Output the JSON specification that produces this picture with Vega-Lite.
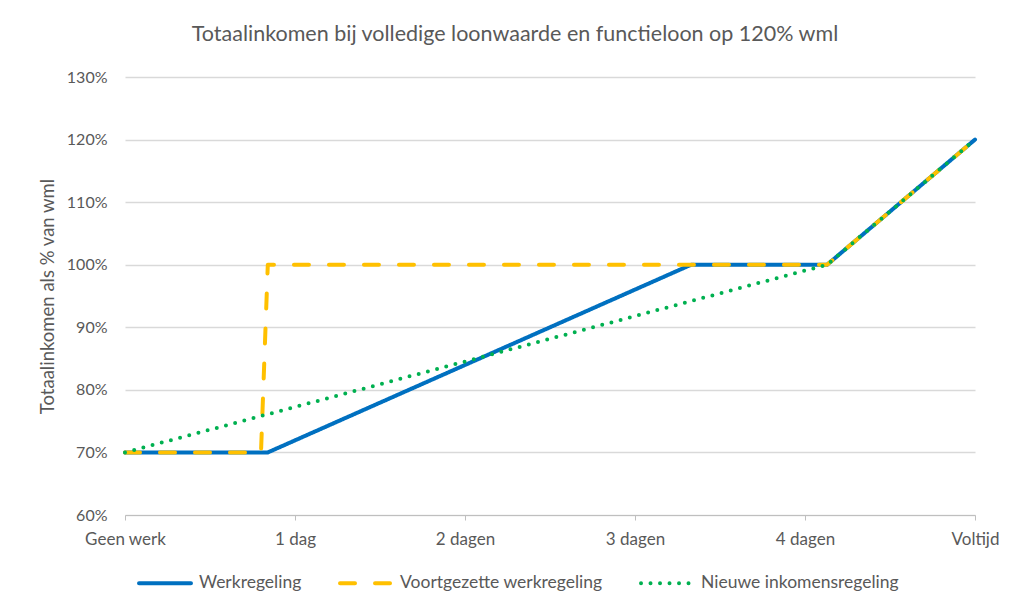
{
  "$schema": "https://vega.github.io/schema/vega-lite/v6.json",
  "width": 850,
  "height": 438,
  "autosize": {"type": "none"},
  "padding": {"left": 125, "top": 77, "right": 34, "bottom": 89},
  "background": "white",
  "config": {
    "font": "Lato",
    "view": {"stroke": null},
    "axis": {"labelColor": "#595959", "titleColor": "#595959", "labelFontSize": 16, "titleFontSize": 18.5, "titleFontWeight": "normal"},
    "legend": {"labelColor": "#595959", "labelFontSize": 17.5}
  },
  "title": {
    "text": "Totaalinkomen bij volledige loonwaarde en functieloon op 120% wml",
    "fontSize": 21.5,
    "fontWeight": "normal",
    "color": "#595959",
    "anchor": "middle",
    "dx": -35,
    "offset": 24
  },
  "data": {
    "values": [
      {"serie": "Werkregeling", "x": 0, "y": 70},
      {"serie": "Werkregeling", "x": 0.84, "y": 70},
      {"serie": "Werkregeling", "x": 3.33, "y": 100},
      {"serie": "Werkregeling", "x": 4.13, "y": 100},
      {"serie": "Werkregeling", "x": 5, "y": 120},
      {"serie": "Voortgezette werkregeling", "x": 0, "y": 70},
      {"serie": "Voortgezette werkregeling", "x": 0.8, "y": 70},
      {"serie": "Voortgezette werkregeling", "x": 0.84, "y": 100},
      {"serie": "Voortgezette werkregeling", "x": 4.13, "y": 100},
      {"serie": "Voortgezette werkregeling", "x": 5, "y": 120},
      {"serie": "Nieuwe inkomensregeling", "x": 0, "y": 70},
      {"serie": "Nieuwe inkomensregeling", "x": 4.13, "y": 100},
      {"serie": "Nieuwe inkomensregeling", "x": 5, "y": 120}
    ]
  },
  "encoding": {
    "x": {
      "field": "x", "type": "quantitative",
      "scale": {"domain": [0, 5], "nice": false, "zero": false},
      "axis": {
        "title": null, "grid": false, "values": [0, 1, 2, 3, 4, 5],
        "labelExpr": "['Geen werk','1 dag','2 dagen','3 dagen','4 dagen','Voltijd'][datum.value]",
        "domainColor": "#BFBFBF", "tickColor": "#BFBFBF", "tickSize": 5, "labelPadding": 11, "labelFontSize": 17,
        "labelFlush": false, "labelOverlap": false
      }
    },
    "y": {
      "field": "y", "type": "quantitative",
      "scale": {"domain": [60, 130], "nice": false, "zero": false},
      "axis": {
        "title": "Totaalinkomen als % van wml", "values": [60, 70, 80, 90, 100, 110, 120, 130],
        "labelExpr": "datum.value + '%'", "domain": false, "ticks": false,
        "gridColor": "#D9D9D9", "gridWidth": 1.3, "labelPadding": 18, "titlePadding": 9
      }
    },
    "color": {
      "field": "serie", "type": "nominal",
      "scale": {"domain": ["Werkregeling", "Voortgezette werkregeling", "Nieuwe inkomensregeling"], "range": ["#0070C0", "#FFC000", "#00B050"]},
      "legend": {
        "title": null, "orient": "none", "direction": "horizontal", "legendX": 12, "legendY": 478,
        "symbolType": "stroke", "symbolSize": 2700, "symbolStrokeWidth": 4, "columnPadding": 30, "labelOffset": 6, "labelLimit": 400,
        "encode": {"symbols": {"update": {"strokeCap": {"value": "round"}}}}
      }
    },
    "strokeDash": {
      "field": "serie", "type": "nominal",
      "scale": {"domain": ["Werkregeling", "Voortgezette werkregeling", "Nieuwe inkomensregeling"], "range": [[1, 0], [15, 20], [0, 9.5]]},
      "legend": null
    }
  },
  "layer": [
    {"transform": [{"filter": "datum.serie === 'Werkregeling'"}], "mark": {"type": "line", "strokeWidth": 4, "strokeCap": "round", "strokeJoin": "round"}},
    {"transform": [{"filter": "datum.serie === 'Voortgezette werkregeling'"}], "mark": {"type": "line", "strokeWidth": 4, "strokeCap": "round", "strokeJoin": "round"}},
    {"transform": [{"filter": "datum.serie === 'Nieuwe inkomensregeling'"}], "mark": {"type": "line", "strokeWidth": 4, "strokeCap": "round", "strokeJoin": "round"}}
  ]
}
